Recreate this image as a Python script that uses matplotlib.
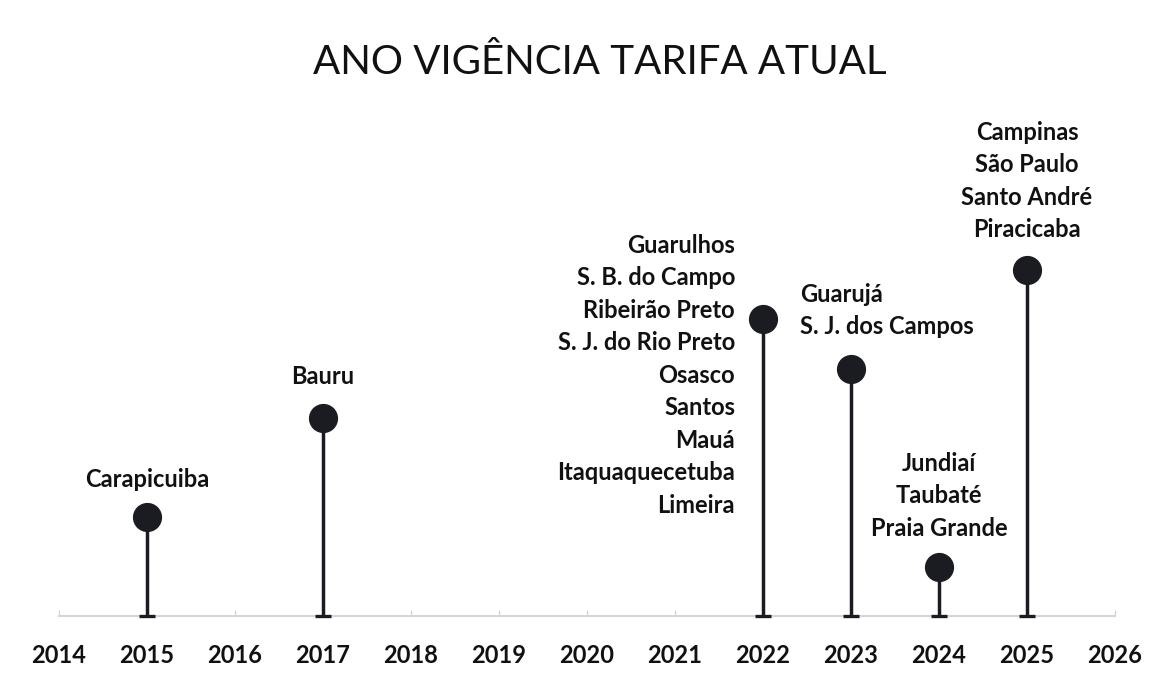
import matplotlib
matplotlib.use("Agg")
import matplotlib.pyplot as plt

# -----------------------------
# DATA
# -----------------------------
years = [2015, 2017, 2022, 2023, 2024, 2025]
heights = [1.0, 2.0, 3.0, 2.5, 0.5, 3.5]
cities = [
    ["Carapicuiba"],
    ["Bauru"],
    ["Guarulhos", "S. B. do Campo", "Ribeirão Preto", "S. J. do Rio Preto",
     "Osasco", "Santos", "Mauá", "Itaquaquecetuba", "Limeira"],
    ["Guarujá", "S. J. dos Campos"],
    ["Jundiaí", "Taubaté", "Praia Grande"],
    ["Campinas", "São Paulo", "Santo André", "Piracicaba"],
]
year_ticks = list(range(2014, 2027))
title = "ANO VIGÊNCIA TARIFA ATUAL"

# label placement (offset in pixels from the marker, alignment)
placement = [
    (0, 38, "center"),
    (0, 42, "center"),
    (-28, -56, "right"),
    (-51, 58, "left"),
    (0, 71, "center"),
    (0, 89, "center"),
]

dark = "#1b1b22"
plt.rcParams["font.family"] = ["Lato", "DejaVu Sans"]

fig = plt.figure(figsize=(11.63, 6.75), dpi=100)
ax = fig.add_axes([59 / 1163, 1 - 616 / 675, (1115 - 59) / 1163, 5.2 * 98.9 / 675])

ax.vlines(years, 0, heights, color=dark, lw=2.5, zorder=2)
ax.plot(years, heights, "o", color=dark, markersize=20, zorder=3, clip_on=False)
ax.plot(years, [0] * len(years), "_", color=dark, markersize=11, mew=2.4,
        zorder=3, clip_on=False)

for x, y, names, (dx, dy, ha) in zip(years, heights, cities, placement):
    ax.annotate("\n".join(names), xy=(x, y), xytext=(dx, dy),
                textcoords="offset pixels", ha=ha, va="center",
                fontsize=17, fontweight="bold", linespacing=1.5,
                multialignment=ha, color="#111111")

ax.set_xlim(2014, 2026)
ax.set_ylim(0, 5.2)
ax.set_xticks(year_ticks)
ax.set_xticklabels([str(y) for y in year_ticks], fontsize=17, fontweight="bold")
ax.tick_params(axis="x", direction="in", length=4, color="#d0d0d0", pad=20,
               labelcolor="#111111")
ax.set_yticks([])
for s in ["left", "right", "top"]:
    ax.spines[s].set_visible(False)
ax.spines["bottom"].set_color("#d6d6d6")
ax.spines["bottom"].set_linewidth(1.5)

fig.text(0.516, 0.908, title, ha="center", va="center", fontsize=29,
         color="#111111")

fig.savefig("out.png", dpi=100, facecolor="white")
